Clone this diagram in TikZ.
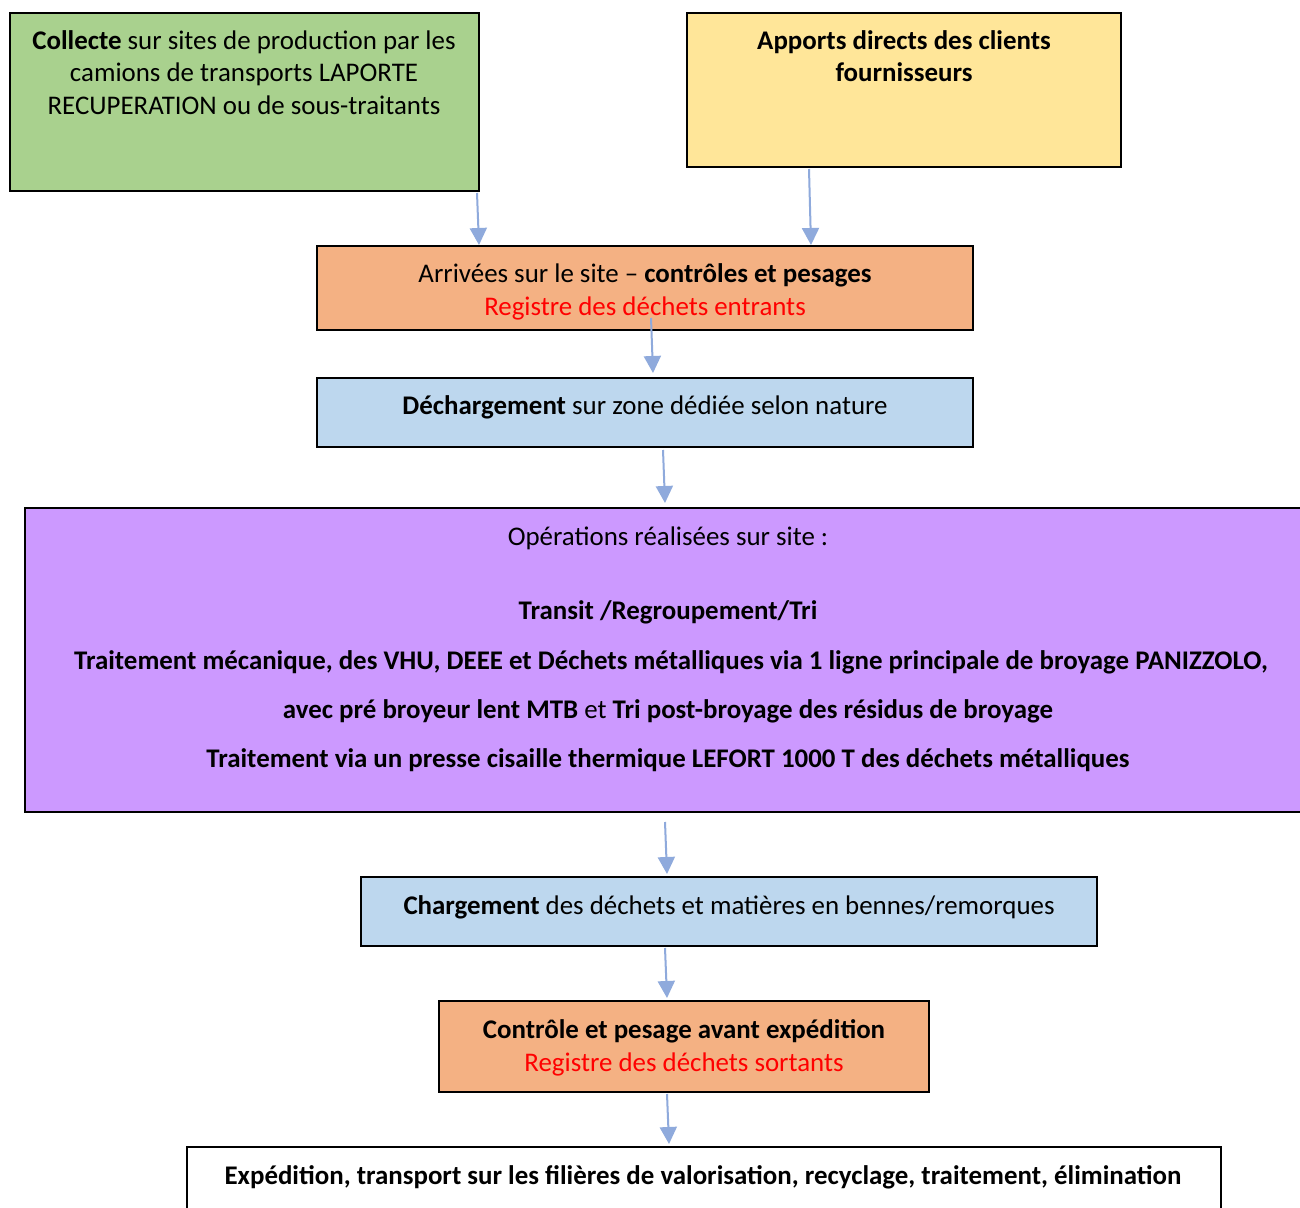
\documentclass[tikz,border=0pt]{standalone}
\usepackage{fontspec}
\setmainfont{Carlito}
\usetikzlibrary{arrows.meta,fit}
\definecolor{cgreen}{HTML}{A9D18E}
\definecolor{cyellow}{HTML}{FFE699}
\definecolor{corange}{HTML}{F4B183}
\definecolor{cblue}{HTML}{BDD7EE}
\definecolor{cpurple}{HTML}{CC99FF}
\definecolor{carrow}{HTML}{8FAADC}
\definecolor{cred}{HTML}{FF0000}
\begin{document}
\begin{tikzpicture}[x=0.5pt,y=-0.5pt,
  box/.style={draw=black,line width=1pt,inner sep=0pt},
  txt/.style={anchor=base,inner sep=0pt,font=\fontsize{13.45}{15}\selectfont},
  redtxt/.style={txt,text=cred},
  arr/.style={draw=carrow,line width=1pt,-{Triangle[width=8.5pt,length=8.5pt]}}]
\useasboundingbox (0,0) rectangle (1300,1208);
\fill[white] (0,0) rectangle (1300,1208);
% boxes
\node[box,fill=cgreen,fit={(10,13) (479,191)}] (green) {};
\node[box,fill=cyellow,fit={(687,13) (1121,167)}] (yellow) {};
\node[box,fill=corange,fit={(317,246) (973,330)}] (arrive) {};
\node[box,fill=cblue,fit={(317,378) (973,447)}] (decharge) {};
\node[box,fill=cpurple,fit={(25,508) (1315,812)}] (ops) {};
\node[box,fill=cblue,fit={(361,877) (1097,946)}] (charge) {};
\node[box,fill=corange,fit={(439,1001) (929,1092)}] (controle) {};
\node[box,fill=white,fit={(187,1147) (1221,1230)}] (expe) {};
% texts
\node[txt] (g1) at (244,50) {\textbf{Collecte} sur sites de production par les};
\node[txt] (g2) at (244,82) {camions de transports LAPORTE};
\node[txt] (g3) at (244,115) {RECUPERATION ou de sous-traitants};
\node[txt] (y1) at (904,50) {\textbf{Apports directs des clients}};
\node[txt] (y2) at (904,82) {\textbf{fournisseurs}};
\node[txt] (a1) at (645,283) {Arrivées sur le site – \textbf{contrôles et pesages}};
\node[redtxt] (a2) at (645,316) {Registre des déchets entrants};
\node[txt] (d1) at (645,415) {\textbf{Déchargement} sur zone dédiée selon nature};
\node[txt] (o1) at (668,545) {Opérations réalisées sur site :};
\node[txt] (o2) at (668,619) {\textbf{Transit /Regroupement/Tri}};
\node[txt] (o3) at (671,669) {\textbf{Traitement mécanique, des VHU, DEEE et Déchets métalliques via 1 ligne principale de broyage PANIZZOLO,}};
\node[txt] (o4) at (668,718) {\textbf{avec pré broyeur lent MTB} et \textbf{Tri post-broyage des résidus de broyage}};
\node[txt] (o5) at (668,767) {\textbf{Traitement via un presse cisaille thermique LEFORT 1000 T des déchets métalliques}};
\node[txt] (c1) at (729,914) {\textbf{Chargement} des déchets et matières en bennes/remorques};
\node[txt] (k1) at (684,1038) {\textbf{Contrôle et pesage avant expédition}};
\node[redtxt] (k2) at (684,1071) {Registre des déchets sortants};
\node[txt] (e1) at (703,1184) {\textbf{Expédition, transport sur les filières de valorisation, recyclage, traitement, élimination}};
% arrow start points
\coordinate (s1) at (477,193);
\coordinate (s2) at (809,169);
\coordinate (s3) at (651,318);
\coordinate (s4) at (663,450);
\coordinate (s5) at (665,822);
\coordinate (s6) at (665,948);
\coordinate (s7) at (667,1094);
\draw[arr] (s1) -- ([xshift=1pt]s1 |- arrive.north);
\draw[arr] (s2) -- ([xshift=1pt]s2 |- arrive.north);
\draw[arr] (s3) -- ([xshift=1pt,yshift=2pt]s3 |- decharge.north);
\draw[arr] (s4) -- ([xshift=1pt,yshift=2pt]s4 |- ops.north);
\draw[arr] (s5) -- ([xshift=1pt,yshift=1pt]s5 |- charge.north);
\draw[arr] (s6) -- ([xshift=1pt,yshift=1pt]s6 |- controle.north);
\draw[arr] (s7) -- ([xshift=1pt,yshift=1pt]s7 |- expe.north);
\end{tikzpicture}
\end{document}
